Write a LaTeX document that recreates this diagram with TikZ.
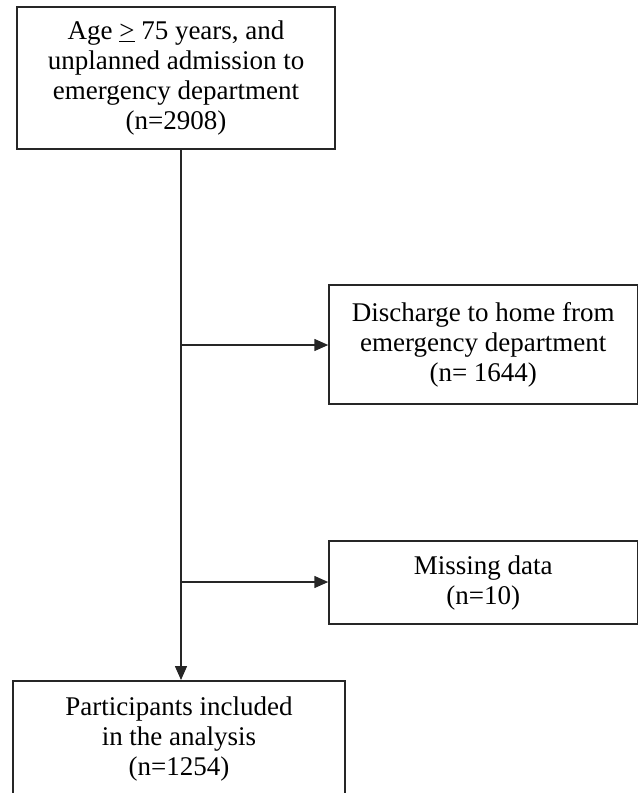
\documentclass[tikz,border=0pt]{standalone}
\usepackage{fontspec}
\setmainfont{Liberation Serif}
\usetikzlibrary{arrows.meta}
\tikzset{
  flowbox/.style={draw=black!85, line width=1.5pt, align=center, inner sep=0pt,
    font=\fontsize{27}{30}\selectfont, text=black},
  flowarrow/.style={draw=black!85, line width=1.5pt, -{Triangle[length=14pt,width=12pt]}}
}
\begin{document}
\begin{tikzpicture}[x=1pt,y=-1pt]
\useasboundingbox (0,0) rectangle (639,793);
\clip (0,0) rectangle (639,793);
\node[flowbox, minimum width=318pt, minimum height=142pt] (top) at (176,78)
  {Age \underline{>} 75 years, and\\unplanned admission to\\emergency department\\(n=2908)};
\node[flowbox, minimum width=308.5pt, minimum height=119pt] (disc) at (483.25,344.5)
  {Discharge to home from\\emergency department\\(n= 1644)};
\node[flowbox, minimum width=308.5pt, minimum height=83pt] (miss) at (483.25,582.5)
  {Missing data\\(n=10)};
\node[flowbox, minimum width=332pt, anchor=north, inner ysep=16pt, text depth=70pt] (incl) at (179,680)
  {Participants included\\in the analysis\\(n=1254)};
\coordinate (j1) at (181,345);
\coordinate (j2) at (181,582);
\draw[flowarrow] (top.south -| j1) -- (incl.north -| j1);
\draw[flowarrow] (j1) -- (disc.west |- j1);
\draw[flowarrow] (j2) -- (miss.west |- j2);
\end{tikzpicture}
\end{document}
